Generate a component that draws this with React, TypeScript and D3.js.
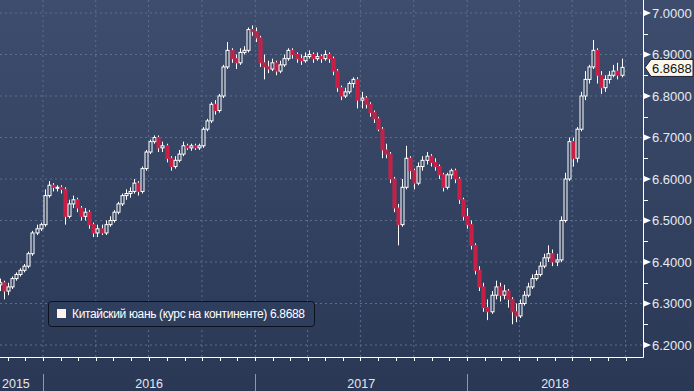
import React, { useMemo } from 'react'
import * as d3 from 'd3'

const W = 694
const H = 391

// weekly candles, opens are taken from the previous week's close
const startDate = new Date(2015, 9, 19)
const firstOpen = 6.345
const closes = [
  6.35, 6.33, 6.34, 6.36, 6.37, 6.38, 6.39, 6.42, 6.47, 6.48,
  6.49, 6.56, 6.585, 6.58, 6.58, 6.575, 6.51, 6.54, 6.55, 6.53,
  6.51, 6.52, 6.49, 6.47, 6.48, 6.47, 6.49, 6.5, 6.52, 6.54,
  6.56, 6.565, 6.57, 6.59, 6.57, 6.625, 6.665, 6.69, 6.7, 6.675,
  6.68, 6.65, 6.63, 6.645, 6.66, 6.68, 6.675, 6.68, 6.675, 6.68,
  6.72, 6.74, 6.78, 6.765, 6.8, 6.87, 6.91, 6.89, 6.88, 6.905,
  6.91, 6.96, 6.955, 6.94, 6.88, 6.87, 6.865, 6.88, 6.86, 6.875,
  6.89, 6.91, 6.9, 6.89, 6.885, 6.895, 6.9, 6.89, 6.895, 6.89,
  6.9, 6.89, 6.86, 6.82, 6.8, 6.81, 6.83, 6.84, 6.79, 6.795,
  6.78, 6.76, 6.745, 6.72, 6.67, 6.66, 6.6, 6.53, 6.49, 6.58,
  6.65, 6.62, 6.59, 6.63, 6.645, 6.655, 6.64, 6.63, 6.61, 6.58,
  6.61, 6.62, 6.6, 6.55, 6.51, 6.49, 6.44, 6.38, 6.34, 6.29,
  6.28, 6.32, 6.34, 6.32, 6.33, 6.31, 6.28, 6.27, 6.3, 6.32,
  6.34, 6.36, 6.37, 6.39, 6.41, 6.42, 6.4, 6.405, 6.5, 6.6,
  6.69, 6.65, 6.72, 6.8, 6.84, 6.87, 6.91, 6.85, 6.82, 6.84,
  6.85, 6.86, 6.85, 6.8688,
]
const highs = [
  6.36, 6.355, 6.35, 6.365, 6.375, 6.385, 6.395, 6.425, 6.475, 6.49,
  6.495, 6.575, 6.595, 6.59, 6.585, 6.585, 6.58, 6.55, 6.56, 6.555,
  6.535, 6.53, 6.525, 6.495, 6.49, 6.49, 6.5, 6.51, 6.525, 6.545,
  6.565, 6.575, 6.58, 6.6, 6.595, 6.63, 6.67, 6.695, 6.705, 6.705,
  6.69, 6.685, 6.655, 6.655, 6.67, 6.69, 6.685, 6.685, 6.685, 6.685,
  6.725, 6.745, 6.785, 6.79, 6.805, 6.875, 6.93, 6.915, 6.9, 6.915,
  6.92, 6.965, 6.97, 6.965, 6.945, 6.9, 6.885, 6.89, 6.885, 6.885,
  6.9, 6.915, 6.915, 6.905, 6.9, 6.905, 6.91, 6.905, 6.905, 6.9,
  6.91, 6.905, 6.895, 6.865, 6.825, 6.82, 6.835, 6.845, 6.845, 6.81,
  6.8, 6.785, 6.765, 6.75, 6.725, 6.685, 6.665, 6.605, 6.54, 6.6,
  6.68, 6.655, 6.625, 6.64, 6.655, 6.665, 6.66, 6.65, 6.635, 6.615,
  6.615, 6.625, 6.625, 6.605, 6.555, 6.53, 6.5, 6.445, 6.39, 6.35,
  6.31, 6.33, 6.355, 6.35, 6.345, 6.335, 6.315, 6.3, 6.31, 6.33,
  6.35, 6.37, 6.38, 6.4, 6.42, 6.44, 6.43, 6.42, 6.51, 6.615,
  6.7, 6.7, 6.725, 6.81, 6.86, 6.875, 6.935, 6.915, 6.86, 6.85,
  6.86, 6.875, 6.88, 6.89,
]
const lows = [
  6.33, 6.31, 6.32, 6.335, 6.355, 6.365, 6.375, 6.385, 6.415, 6.465,
  6.475, 6.485, 6.555, 6.57, 6.57, 6.565, 6.49, 6.505, 6.53, 6.52,
  6.5, 6.5, 6.48, 6.46, 6.46, 6.465, 6.465, 6.485, 6.495, 6.515,
  6.535, 6.55, 6.555, 6.565, 6.56, 6.565, 6.62, 6.66, 6.685, 6.665,
  6.665, 6.64, 6.62, 6.625, 6.64, 6.655, 6.67, 6.668, 6.67, 6.67,
  6.675, 6.715, 6.735, 6.755, 6.76, 6.795, 6.865, 6.88, 6.865, 6.875,
  6.9, 6.905, 6.945, 6.93, 6.87, 6.84, 6.855, 6.86, 6.85, 6.855,
  6.87, 6.885, 6.89, 6.88, 6.875, 6.88, 6.89, 6.88, 6.885, 6.88,
  6.885, 6.88, 6.85, 6.81, 6.79, 6.795, 6.805, 6.82, 6.77, 6.77,
  6.77, 6.75, 6.735, 6.715, 6.65, 6.65, 6.59, 6.52, 6.44, 6.485,
  6.575, 6.6, 6.575, 6.585, 6.62, 6.635, 6.63, 6.62, 6.6, 6.57,
  6.575, 6.6, 6.59, 6.54, 6.5, 6.48, 6.43, 6.37, 6.33, 6.28,
  6.26, 6.275, 6.31, 6.305, 6.31, 6.29, 6.25, 6.255, 6.265, 6.295,
  6.315, 6.335, 6.355, 6.365, 6.385, 6.4, 6.39, 6.39, 6.4, 6.495,
  6.595, 6.63, 6.64, 6.715, 6.79, 6.83, 6.865, 6.83, 6.805, 6.81,
  6.83, 6.845, 6.84, 6.845,
]

const yTicks = [6.2, 6.3, 6.4, 6.5, 6.6, 6.7, 6.8, 6.9, 7.0]
const yearLabels = ['2015', '2016', '2017', '2018']
const seriesName = 'Китайский юань (курс на континенте)'
const lastValue = 6.8688

const font = '"Liberation Sans", Arial, sans-serif'

const App = () => {
  const plotRight = 643
  const plotBottom = 357

  const x = useMemo(
    () =>
      d3
        .scaleTime()
        .domain([new Date(2015, 9, 19), new Date(2018, 9, 31)])
        .range([0, plotRight]),
    []
  )
  const y = useMemo(
    () => d3.scaleLinear().domain([6.2, 7.0]).range([345, 13]),
    []
  )

  const candles = closes.map((c, i) => {
    const o = i === 0 ? firstOpen : closes[i - 1]
    return {
      date: d3.timeDay.offset(startDate, i * 7),
      o,
      c,
      h: Math.max(highs[i], o, c),
      l: Math.min(lows[i], o, c),
    }
  })

  const quarters = d3.timeMonth
    .every(3)
    .range(x.domain()[0], x.domain()[1])
  const months = d3.timeMonth.range(x.domain()[0], x.domain()[1])
  const yearStarts = d3.timeYear.range(x.domain()[0], x.domain()[1])
  const minorTicks = d3.range(6.15, 7.05, 0.1).filter((v) => y(v) > 0 && y(v) < plotBottom)

  const fmt = d3.format('.4f')
  const bodyW = 3
  const grid = '#5b6e8e'

  const yearPos = yearLabels.map((label) => {
    const start = Math.max(0, x(new Date(+label, 0, 1)))
    const end = Math.min(plotRight, x(new Date(+label + 1, 0, 1)))
    return { label, start, mid: (start + end) / 2 }
  })

  const ly = y(lastValue)

  return (
    <svg
      width={W}
      height={H}
      style={{ position: 'fixed', left: 0, top: 0 }}
      fontFamily={font}
    >
      <defs>
        <linearGradient id='bg' x1='0' y1='0' x2='0' y2='1'>
          <stop offset='0%' stopColor='#3e4d6d' />
          <stop offset='100%' stopColor='#2a3856' />
        </linearGradient>
      </defs>
      <rect width={W} height={H} fill='url(#bg)' />

      {/* grid */}
      {yTicks.map((t) => (
        <line
          key={'gy' + t}
          x1={0}
          x2={plotRight}
          y1={y(t)}
          y2={y(t)}
          stroke={grid}
          strokeDasharray='2,3'
        />
      ))}
      {quarters.map((d) => (
        <line
          key={'gx' + +d}
          x1={x(d)}
          x2={x(d)}
          y1={0}
          y2={plotBottom}
          stroke={grid}
          strokeDasharray='2,3'
        />
      ))}

      {/* candles */}
      {candles.map((d, i) => {
        const cx = Math.round(x(d.date)) + 0.5
        const up = d.c >= d.o
        const top = y(Math.max(d.o, d.c))
        const bot = y(Math.min(d.o, d.c))
        return (
          <g key={i}>
            <line x1={cx} x2={cx} y1={y(d.h)} y2={y(d.l)} stroke='#ffffff' />
            <rect
              x={cx - bodyW / 2}
              y={top}
              width={bodyW}
              height={Math.max(1, bot - top)}
              fill={up ? '#34435f' : '#c41e43'}
              stroke={up ? '#ffffff' : '#d0234a'}
              strokeWidth={1}
            />
          </g>
        )
      })}

      {/* axes */}
      <line x1={0} x2={plotRight + 0.5} y1={plotBottom + 0.5} y2={plotBottom + 0.5} stroke='#fff' />
      <line x1={plotRight + 0.5} x2={plotRight + 0.5} y1={0} y2={plotBottom + 0.5} stroke='#fff' />
      {months.map((d) => (
        <line
          key={'mt' + +d}
          x1={Math.round(x(d)) + 0.5}
          x2={Math.round(x(d)) + 0.5}
          y1={plotBottom}
          y2={plotBottom + 4}
          stroke='#fff'
        />
      ))}
      {minorTicks.map((v) => (
        <line
          key={'mi' + v}
          x1={plotRight}
          x2={plotRight + 5}
          y1={Math.round(y(v)) + 0.5}
          y2={Math.round(y(v)) + 0.5}
          stroke='#fff'
        />
      ))}
      {yTicks.map((t) => (
        <g key={'yl' + t} transform={`translate(${plotRight},${y(t)})`}>
          <path d='M1,-3L8,0L1,3Z' fill='#fff' />
          <text x={9} dy='0.35em' fontSize={13} fill='#e8eaef'>
            {fmt(t)}
          </text>
        </g>
      ))}

      {/* last price tag */}
      <path
        d={`M${plotRight + 2},${ly}L${plotRight + 8},${ly - 8}H${W - 1}V${ly + 9}H${plotRight + 8}Z`}
        fill='#fdf6ea'
        stroke='#1c2233'
      />
      <text x={plotRight + 9} y={ly} dy='0.4em' fontSize={13} fill='#111'>
        {fmt(lastValue)}
      </text>

      {/* year band */}
      {yearStarts.map((d) => (
        <line
          key={'ys' + +d}
          x1={Math.round(x(d)) + 0.5}
          x2={Math.round(x(d)) + 0.5}
          y1={374}
          y2={H}
          stroke='#8b98ae'
        />
      ))}
      {yearPos.map((p, i) => (
        <text
          key={p.label}
          x={i === 0 ? 2 : p.mid}
          y={388}
          fontSize={12.5}
          fill='#e4e7ee'
          textAnchor={i === 0 ? 'start' : 'middle'}
        >
          {p.label}
        </text>
      ))}

      {/* legend */}
      <rect x={48.5} y={301.5} width={266} height={25} rx={3} fill='#2f3e5d' stroke='#0c1120' />
      <rect x={57} y={309} width={9} height={9} fill='#fdf3ee' />
      <text x={72} y={318} fontSize={12} fill='#ffffff' textLength={233} lengthAdjust='spacing'>
        {`${seriesName} ${fmt(lastValue)}`}
      </text>
    </svg>
  )
}

export default App
